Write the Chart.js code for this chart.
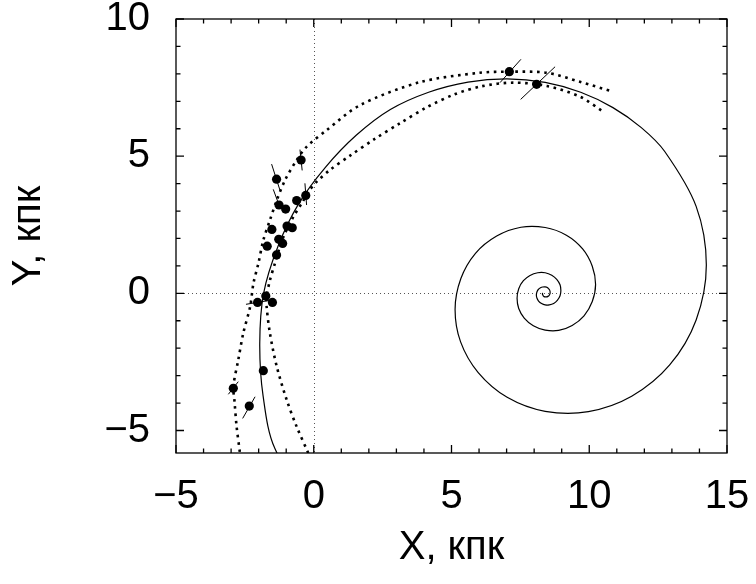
<!DOCTYPE html>
<html><head><meta charset="utf-8">
<script src="https://cdn.jsdelivr.net/npm/chart.js@4/dist/chart.umd.min.js"></script>
<style>html,body{margin:0;padding:0;background:#fff}#wrap{width:756px;height:584px;position:relative}</style>
</head><body><div id="wrap"><canvas id="c"></canvas></div>
<script>
// ---- axis ticks ----
const xMajorTicks = [-5, 0, 5, 10, 15];
const xTickLabels = ['\u22125', '0', '5', '10', '15'];
const yMajorTicks = [-5, 0, 5, 10];
const yTickLabels = ['\u22125', '0', '5', '10'];
const xMinorTicks = [-4,-3,-2,-1,1,2,3,4,6,7,8,9,11,12,13,14];
const yMinorTicks = [-4,-3,-2,-1,1,2,3,4,6,7,8,9];

// ---- spiral arm model (solid line), kpc ----
const spiralX = [0.64,-1.41,-1.84,-1.96,-1.82,-1.30,-0.55,0.43,1.54,2.78,4.17,5.60,7.02,8.40,9.69,10.86,11.89,12.74,13.88,14.25,13.88,12.92,11.54,9.97,8.40,7.02,5.97,5.33,
 5.13,5.34,5.87,6.64,7.52,8.40,9.17,9.76,10.11,10.23,10.11,9.81,9.38,8.89,8.40,7.97,7.64,7.44,
 7.38,7.44,7.61,7.85,8.13,8.40,8.64,8.82,8.94,8.97,8.94,8.84,8.71,8.55,8.40,8.27,8.16,8.10,
 8.08,8.10,8.15,8.23,8.31,8.40,8.48,8.53,8.57,8.58,8.57,8.54,8.50,8.45,8.40,8.36,8.33,8.31,8.30,8.31];
const spiralY = [-9.25,-5.66,-3.73,-1.83,0.00,1.71,3.26,4.60,5.76,6.70,7.33,7.70,7.82,7.69,7.33,6.77,6.04,5.17,3.17,1.03,-0.97,-2.61,-3.75,-4.31,-4.30,-3.79,-2.89,-1.77,
 -0.58,0.54,1.46,2.09,2.41,2.40,2.12,1.62,0.99,0.32,-0.30,-0.82,-1.17,-1.35,-1.34,-1.18,-0.90,-0.55,
 -0.18,0.17,0.46,0.65,0.75,0.75,0.66,0.51,0.31,0.10,-0.09,-0.26,-0.37,-0.42,-0.42,-0.37,-0.28,-0.17,
 -0.06,0.05,0.14,0.20,0.23,0.235,0.21,0.16,0.10,0.03,-0.03,-0.08,-0.11,-0.13,-0.13,-0.12,-0.09,-0.05,-0.02,0.02];

// ---- dotted envelopes ----
const outerX = [-2.64,-2.68,-2.80,-2.88,-2.92,-2.74,-2.56,-2.31,-2.19,-2.01,-1.83,-1.59,-1.34,-1.04,-0.62,-0.26,0.47,1.68,3.86,6.03,7.12,8.46,9.66,10.87];
const outerY = [-6.30,-5.82,-4.86,-3.89,-3.40,-2.43,-1.46,-0.49,0.36,1.09,1.94,2.67,3.40,4.13,4.86,5.34,5.95,6.86,7.70,8.04,8.08,8.04,7.71,7.35];
const innerX = [0.01,-0.20,-0.62,-0.98,-1.34,-1.59,-1.71,-1.71,-1.59,-1.41,-1.23,-1.04,-0.74,-0.44,-0.14,0.11,0.59,1.32,2.20,3.13,4.10,5.10,6.10,7.24,8.46,9.66,10.51];
const innerY = [-6.30,-5.82,-4.86,-3.89,-2.68,-1.46,-0.49,-0.12,0.48,1.09,1.70,2.20,2.79,3.28,3.77,4.07,4.50,5.02,5.62,6.20,6.78,7.25,7.55,7.68,7.56,7.17,6.62];

// ---- objects ----
const objX = [-0.46,-1.35,-0.29,-0.62,-1.26,-1.02,-1.52,-0.97,-0.78,-1.27,-1.13,-1.69,-1.35,-1.74,-2.04,-1.50,-1.83,-2.92,-2.34,7.10,8.09];
const objY = [4.86,4.16,3.57,3.38,3.22,3.07,2.33,2.45,2.39,1.97,1.82,1.72,1.40,-0.10,-0.33,-0.33,-2.82,-3.46,-4.11,8.08,7.62];

// ---- distance error bars (end points) ----
const errX1 = [-0.50,-1.53,-0.32,-1.47,-1.59,-2.46,-3.10,-2.58,6.76,7.51];
const errY1 = [5.24,4.71,4.01,3.79,2.49,-0.40,-3.68,-4.56,7.68,7.07];
const errX2 = [-0.42,-1.23,-0.26,-1.26,-1.47,-1.62,-2.74,-2.13,7.52,8.76];
const errY2 = [4.48,3.77,3.22,3.22,2.19,-0.26,-3.22,-3.77,8.53,8.26];

const xMin = -5, xMax = 15, yMin = -5.82, yMax = 10;

const pts = (xs, ys) => xs.map((x, i) => ({x: x, y: ys[i]}));
const FONT = "'Liberation Sans', Arial, Helvetica, sans-serif";

const datasets = [];
datasets.push({data: pts(spiralX, spiralY), showLine: true, borderColor: '#000', borderWidth: 1.2,
  pointRadius: 0, tension: 0.33, fill: false});
datasets.push({data: pts(outerX, outerY), showLine: true, borderColor: '#000', borderWidth: 2.6,
  borderDash: [2.6, 4.6], borderCapStyle: 'butt', pointRadius: 0, tension: 0.3, fill: false});
datasets.push({data: pts(innerX, innerY), showLine: true, borderColor: '#000', borderWidth: 2.6,
  borderDash: [2.6, 4.6], borderCapStyle: 'butt', pointRadius: 0, tension: 0.3, fill: false});
errX1.forEach((v, i) => {
  datasets.push({data: [{x: errX1[i], y: errY1[i]}, {x: errX2[i], y: errY2[i]}], showLine: true,
    borderColor: '#000', borderWidth: 1, pointRadius: 0, tension: 0, fill: false});
});
datasets.push({data: pts(objX, objY), showLine: false, pointRadius: 4.6, pointStyle: 'circle',
  backgroundColor: '#000', borderColor: '#000', borderWidth: 0});

const framePlugin = {
  id: 'frame',
  beforeDatasetsDraw(chart) {
    const {ctx, chartArea: a, scales: {x, y}} = chart;
    ctx.save();
    ctx.strokeStyle = '#555'; ctx.lineWidth = 1; ctx.setLineDash([1, 3]);
    const px = Math.round(x.getPixelForValue(0)) + 0.5;
    const py = Math.round(y.getPixelForValue(0)) + 0.5;
    ctx.beginPath(); ctx.moveTo(px, a.top); ctx.lineTo(px, a.bottom); ctx.stroke();
    ctx.beginPath(); ctx.moveTo(a.left, py); ctx.lineTo(a.right, py); ctx.stroke();
    ctx.restore();
  },
  afterDatasetsDraw(chart) {
    const {ctx, chartArea: a, scales: {x, y}} = chart;
    ctx.save();
    ctx.strokeStyle = '#000'; ctx.lineWidth = 1.3; ctx.setLineDash([]);
    const tick = (vals, len) => {
      vals.forEach(v => {
        const p = x.getPixelForValue(v);
        ctx.beginPath(); ctx.moveTo(p, a.bottom); ctx.lineTo(p, a.bottom - len);
        ctx.moveTo(p, a.top); ctx.lineTo(p, a.top + len); ctx.stroke();
      });
    };
    const ticky = (vals, len) => {
      vals.forEach(v => {
        const p = y.getPixelForValue(v);
        ctx.beginPath(); ctx.moveTo(a.left, p); ctx.lineTo(a.left + len, p);
        ctx.moveTo(a.right, p); ctx.lineTo(a.right - len, p); ctx.stroke();
      });
    };
    tick(xMajorTicks, 8); tick(xMinorTicks, 4.5);
    ticky(yMajorTicks, 8); ticky(yMinorTicks, 4.5);
    ctx.strokeRect(a.left, a.top, a.right - a.left, a.bottom - a.top);
    ctx.restore();
  }
};

new Chart(document.getElementById('c'), {
  type: 'scatter',
  data: {datasets: datasets},
  plugins: [framePlugin],
  options: {
    responsive: true, maintainAspectRatio: false, animation: false,
    layout: {padding: {left: 0, top: 19, right: 29, bottom: 0}},
    elements: {line: {capBezierPoints: false}},
    plugins: {legend: {display: false}, tooltip: {enabled: false}},
    scales: {
      x: {
        type: 'linear', min: xMin, max: xMax,
        afterBuildTicks: s => { s.ticks = xMajorTicks.map(v => ({value: v})); },
        afterFit: s => { s.height = 131; s.paddingLeft = 0; s.paddingRight = 0; s.paddingTop = 0; s.paddingBottom = 0; },
        grid: {display: false, drawTicks: false},
        border: {display: false},
        ticks: {padding: 20, color: '#000', font: {family: FONT, size: 40},
          callback: v => xTickLabels[xMajorTicks.indexOf(v)]},
        title: {display: true, text: 'X, кпк', color: '#000', font: {family: FONT, size: 40},
          padding: {top: 0, bottom: 12}}
      },
      y: {
        type: 'linear', min: yMin, max: yMax,
        afterBuildTicks: s => { s.ticks = yMajorTicks.map(v => ({value: v})); },
        afterFit: s => { s.width = 176; s.paddingLeft = 0; s.paddingRight = 0; s.paddingTop = 0; s.paddingBottom = 0; },
        grid: {display: false, drawTicks: false},
        border: {display: false},
        ticks: {padding: 26, color: '#000', font: {family: FONT, size: 40, lineHeight: 0.9},
          callback: v => yTickLabels[yMajorTicks.indexOf(v)]},
        title: {display: true, text: 'Y, кпк', color: '#000', font: {family: FONT, size: 40},
          padding: {top: 5, bottom: 0}}
      }
    }
  }
});
</script>
</body></html>
